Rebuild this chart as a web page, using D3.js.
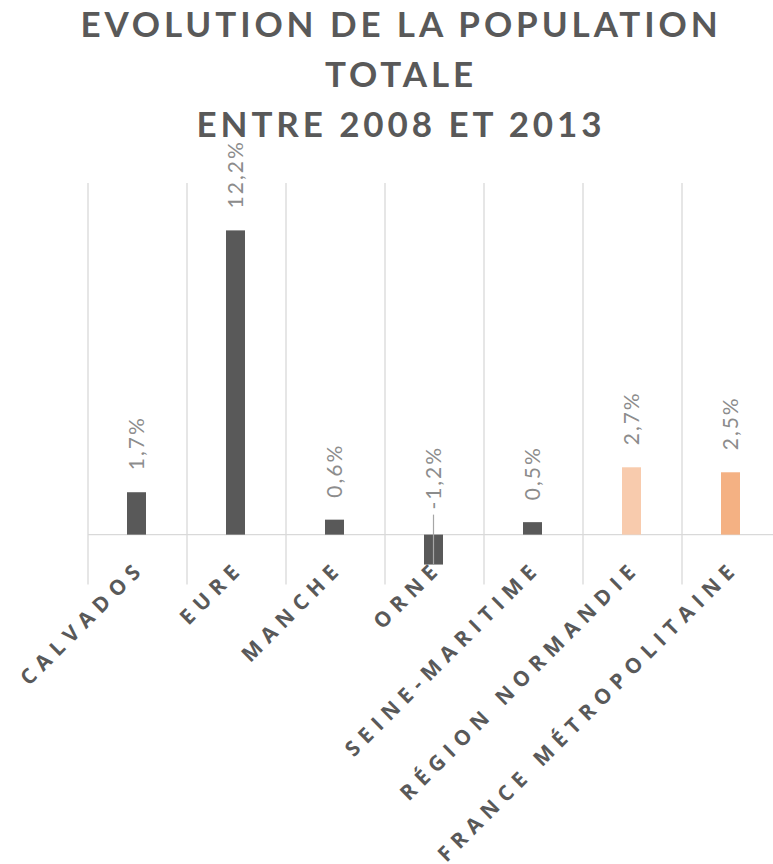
<!DOCTYPE html>
<html>
<head>
<meta charset="utf-8">
<script src="https://cdn.jsdelivr.net/npm/d3@7"></script>
<style>
  body { margin: 0; background: #fff; }
  svg { display: block; }
</style>
</head>
<body>
<svg id="chart" width="773" height="864"></svg>
<script>
// categories and values (% change 2008-2013)
const categories = ["Calvados", "Eure", "Manche", "Orne", "Seine-Maritime", "Région Normandie", "France Métropolitaine"];
const values = [1.7, 12.2, 0.6, -1.2, 0.5, 2.7, 2.5];
const valueLabels = ["1,7%", "12,2%", "0,6%", "-1,2%", "0,5%", "2,7%", "2,5%"];
const barColors = ["#595959", "#595959", "#595959", "#595959", "#595959", "#F8CBAD", "#F4B183"];
const titleLines = ["EVOLUTION DE LA POPULATION", "TOTALE", "ENTRE 2008 ET 2013"];

const svg = d3.select("#chart");

let x = d3.scaleBand()
    .domain(categories)
    .range([88, 781])
    .padding(0);

let y = d3.scaleLinear()
    .domain([-2, 14.1])
    .range([584.5, 183]);

const barW = 19;

// title
svg.append("g").selectAll("text")
    .data(titleLines)
    .enter().append("text")
    .attr("x", 401)
    .attr("y", (d, i) => 37 + i * 50)
    .attr("text-anchor", "middle")
    .style("font-family", "Lato, 'Open Sans', sans-serif")
    .style("font-weight", "bold")
    .style("font-size", "35px")
    .style("letter-spacing", "3.9px")
    .style("fill", "#595959")
    .text(d => d);

// vertical gridlines at band edges
let edges = categories.map(c => x(c)).concat([x.range()[1]]);
svg.append("g").selectAll("line")
    .data(edges)
    .enter().append("line")
    .attr("x1", d => d).attr("x2", d => d)
    .attr("y1", y(14.1)).attr("y2", y(-2))
    .style("stroke", "#d9d9d9")
    .style("stroke-width", 1.3);

// zero line
svg.append("line")
    .attr("x1", x.range()[0]).attr("x2", x.range()[1])
    .attr("y1", y(0)).attr("y2", y(0))
    .style("stroke", "#d9d9d9")
    .style("stroke-width", 1.3);

// bars
svg.append("g").selectAll("rect")
    .data(categories)
    .enter().append("rect")
    .attr("x", d => x(d) + x.bandwidth() / 2 - barW / 2 - 1)
    .attr("width", barW)
    .attr("y", (d, i) => y(Math.max(0, values[i])))
    .attr("height", (d, i) => Math.abs(y(values[i]) - y(0)))
    .style("fill", (d, i) => barColors[i]);

// leader line for negative value label
categories.forEach(function (c, i) {
    if (values[i] < 0) {
        let cx = x(c) + x.bandwidth() / 2 - 1;
        svg.append("line")
            .attr("x1", cx).attr("x2", cx)
            .attr("y1", y(0) - 20).attr("y2", y(values[i]))
            .style("stroke", "#a6a6a6")
            .style("stroke-width", 1.2);
    }
});

// value labels, rotated
svg.append("g").selectAll("text")
    .data(categories)
    .enter().append("text")
    .attr("transform", function (d, i) {
        let cx = x(d) + x.bandwidth() / 2 + 6.5;
        let cy = values[i] >= 0 ? y(values[i]) - 22 : y(0) - 25;
        return "translate(" + cx + "," + cy + ") rotate(-90)";
    })
    .attr("text-anchor", "start")
    .style("font-family", "Lato, 'Open Sans', sans-serif")
    .style("font-size", "21px")
    .style("letter-spacing", "2px")
    .style("fill", "#8c8c8c")
    .text((d, i) => valueLabels[i]);

// category labels, rotated -45
svg.append("g").selectAll("text")
    .data(categories)
    .enter().append("text")
    .attr("transform", function (d) {
        let cx = x(d) + x.bandwidth() / 2 + 9;
        return "translate(" + cx + ",569) rotate(-45)";
    })
    .attr("text-anchor", "end")
    .style("font-family", "'Open Sans', sans-serif")
    .style("font-weight", "bold")
    .style("font-size", "21px")
    .style("letter-spacing", "6.8px")
    .style("fill", "#595959")
    .text(d => d.toUpperCase());
</script>
</body>
</html>
